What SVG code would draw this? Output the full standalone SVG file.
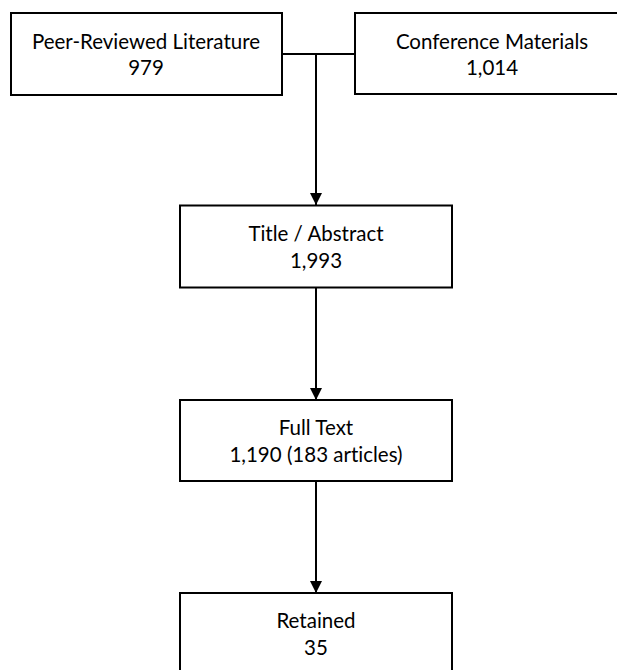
<svg xmlns="http://www.w3.org/2000/svg" width="617" height="670" viewBox="0 0 617 670">
<defs>
<style>
.box{fill:#fff;stroke:#000;stroke-width:2}
.t{font-family:Lato,"Open Sans",sans-serif;font-size:20.5px;fill:#000;text-anchor:middle;font-variant-ligatures:none}
.c{stroke:#000;stroke-width:2;fill:none}
</style>
<marker id="ah" viewBox="0 0 12 12" markerWidth="12" markerHeight="12" refX="12" refY="6" orient="auto" markerUnits="userSpaceOnUse">
<path d="M0,0 L12,6 L0,12 z" fill="#000"/>
</marker>
</defs>
<rect width="617" height="670" fill="#fff"/>
<g id="connectors">
<path class="c" d="M282,54 H355"/>
<path class="c" d="M316,54 V205" marker-end="url(#ah)"/>
<path class="c" d="M316,288 V400" marker-end="url(#ah)"/>
<path class="c" d="M316,481 V593" marker-end="url(#ah)"/>
</g>
<g id="peer">
<rect class="box" x="11" y="13" width="271" height="82"/>
<text class="t" x="146" y="48.5">Peer-Reviewed Literature</text>
<text class="t" x="146" y="75">979</text>
</g>
<g id="conference">
<rect class="box" x="355" y="13" width="274" height="81"/>
<text class="t" x="492" y="48.5">Conference Materials</text>
<text class="t" x="492" y="75">1,014</text>
</g>
<g id="title">
<rect class="box" x="180" y="205.5" width="272" height="82"/>
<text class="t" x="316" y="241">Title / Abstract</text>
<text class="t" x="316" y="268">1,993</text>
</g>
<g id="fulltext">
<rect class="box" x="180" y="400" width="272" height="81"/>
<text class="t" x="316" y="434.5">Full Text</text>
<text class="t" x="316" y="461.5">1,190 (183 articles)</text>
</g>
<g id="retained">
<rect class="box" x="180" y="593" width="272" height="82"/>
<text class="t" x="316" y="628">Retained</text>
<text class="t" x="316" y="655">35</text>
</g>
</svg>
